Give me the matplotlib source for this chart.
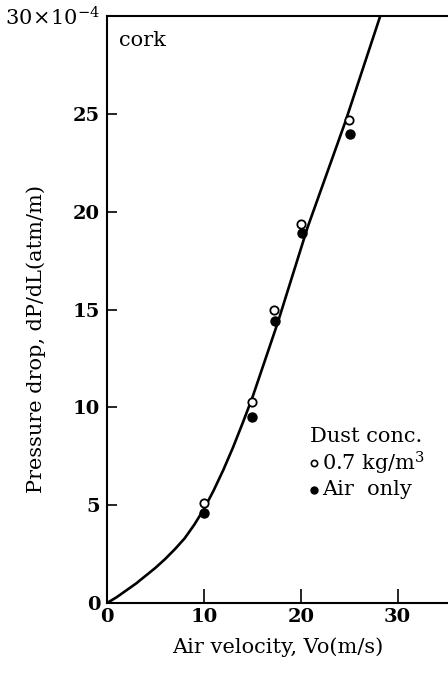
import matplotlib
matplotlib.use('Agg')
import matplotlib.pyplot as plt

plt.rcParams['font.family'] = 'DejaVu Serif'
plt.rcParams['mathtext.fontset'] = 'dejavuserif'

# measured points (velocity m/s, pressure drop x1e-4 atm/m)
vel_dust = [10, 15, 17.2, 20, 25]
dp_dust = [5.1, 10.3, 15.0, 19.4, 24.7]
vel_air = [10, 15, 17.3, 20.1, 25.1]
dp_air = [4.6, 9.5, 14.4, 18.9, 24.0]

# fitted curve
curve_v = [0, 1, 2, 3, 4, 5, 6, 7, 8, 9, 10, 11, 12, 13, 14, 15,
           17.6, 20.7, 24.6, 28.2]
curve_dp = [0, 0.3, 0.65, 1.0, 1.4, 1.8, 2.25, 2.75, 3.3, 4.0, 4.8, 5.75, 6.8,
            7.95, 9.2, 10.5, 14.3, 19.2, 24.6, 30.0]

xticks = [0, 10, 20, 30]
yticks = [0, 5, 10, 15, 20, 25, 30]
ylabels = ['0', '5', '10', '15', '20', '25', r'$30\!\times\!10^{-4}$']

fig = plt.figure(figsize=(4.48, 6.73), dpi=100)
ax = fig.add_axes([0.239, 0.104, 0.761, 0.872])

ax.plot(curve_v, curve_dp, color='black', lw=1.9, zorder=2)
ax.plot(vel_dust, dp_dust, 'o', mfc='white', mec='black', mew=1.3, ms=6, zorder=3)
ax.plot(vel_air, dp_air, 'o', color='black', ms=6.5, zorder=3)

ax.set_xlim(0, 35.2)
ax.set_ylim(0, 30)
ax.set_xticks(xticks)
ax.set_yticks(yticks)
ax.set_xticklabels([str(t) for t in xticks], fontsize=14, fontweight='semibold')
ax.set_yticklabels(ylabels, fontsize=14, fontweight='semibold')
ax.get_yticklabels()[-1].set_fontsize(15)
ax.tick_params(direction='in', length=10, width=1.2, top=False, right=False)
ax.tick_params(axis='y', length=7, pad=5)
for s in ['left', 'bottom', 'top']:
    ax.spines[s].set_linewidth(1.5)
ax.spines['right'].set_visible(False)

ax.set_xlabel('Air velocity, Vo(m/s)', fontsize=15, labelpad=8)
ax.set_ylabel('Pressure drop, dP/dL(atm/m)', fontsize=15)
ax.yaxis.set_label_coords(-0.18, 0.45)

ax.text(0.035, 0.975, 'cork', transform=ax.transAxes, fontsize=15, va='top')

# legend block
ax.text(0.595, 0.283, 'Dust conc.', transform=ax.transAxes, fontsize=15, va='center')
ax.plot([0.607], [0.238], 'o', transform=ax.transAxes, mfc='white', mec='black', mew=1.2, ms=4.5)
ax.text(0.63, 0.238, r'0.7 kg/m$^3$', transform=ax.transAxes, fontsize=15, va='center')
ax.plot([0.607], [0.193], 'o', transform=ax.transAxes, color='black', ms=5)
ax.text(0.63, 0.193, 'Air  only', transform=ax.transAxes, fontsize=15, va='center')

fig.savefig('out.png', dpi=100)
